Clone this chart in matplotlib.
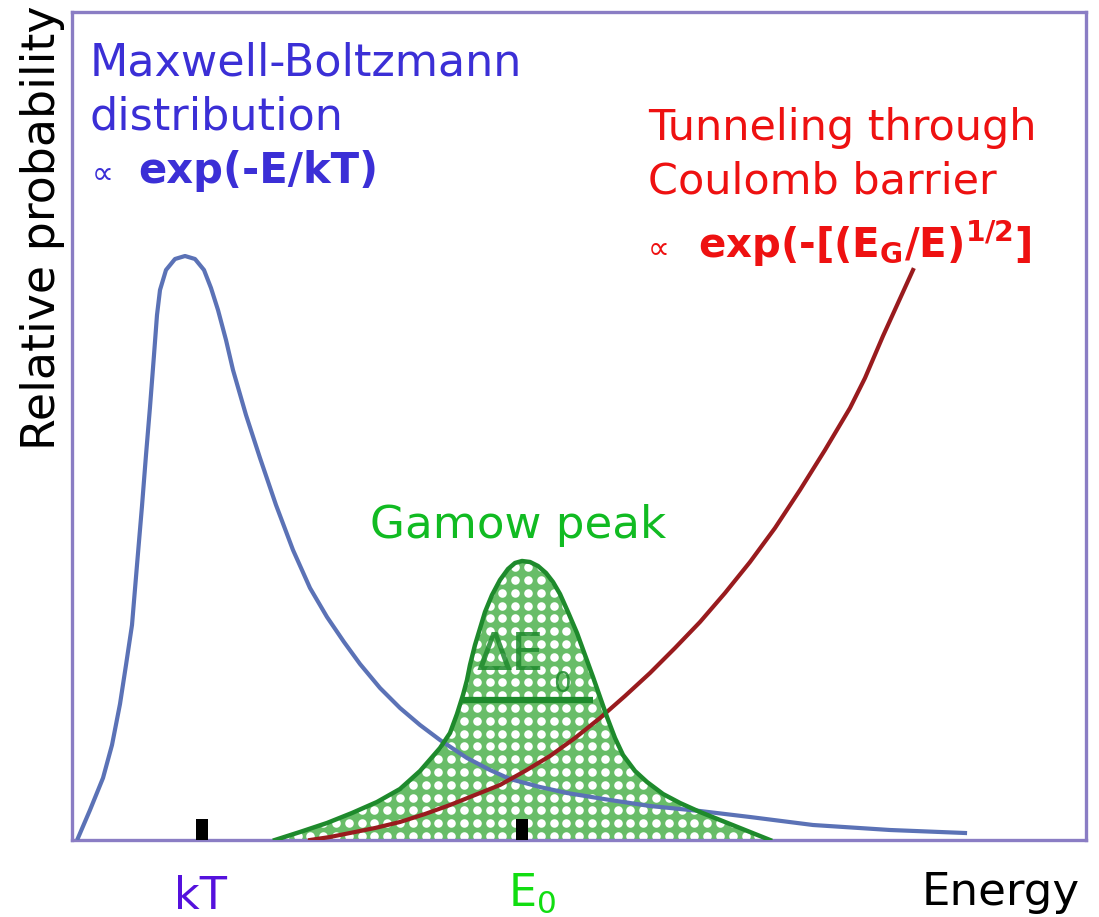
import numpy as np
import matplotlib
matplotlib.use("Agg")
import matplotlib.pyplot as plt
from matplotlib.patches import Polygon

plt.rcParams['font.family'] = ['DejaVu Sans']
plt.rcParams['mathtext.default'] = 'regular'

# ---- data (arbitrary units) ----
mb_energy = [6, 18, 31, 40, 48, 54, 60, 65, 70, 74, 78, 82, 85, 88, 94, 103, 113, 123, 132,
             139, 146, 154, 161, 174, 188, 204, 221, 238, 255, 272, 288, 308, 328, 348, 368,
             395, 418, 438, 468, 495, 538, 578, 628, 678, 741, 818, 893]
mb_prob = [2, 30, 62, 95, 136, 175, 215, 275, 334, 385, 433, 485, 525, 550, 570, 581, 584,
           581, 570, 552, 530, 500, 470, 425, 382, 335, 290, 252, 223, 198, 176, 152, 132,
           115, 100, 82, 70, 61, 53, 47, 40, 34, 29, 23, 15, 10, 7]

tunnel_energy = [238, 258, 278, 303, 328, 353, 378, 403, 428, 453, 478, 503, 528, 553, 578,
                 603, 628, 653, 678, 703, 728, 753, 778, 793, 811, 826, 841]
tunnel_prob = [0, 3, 7, 12, 18, 26, 35, 45, 55, 69, 84, 102, 122, 144, 167, 192, 218, 247,
               278, 312, 350, 390, 432, 462, 504, 537, 570]

gamow_energy = [203, 228, 255, 280, 305, 328, 348, 368, 378, 385, 391, 395, 398, 403, 413,
                420, 428, 436, 443, 450, 458, 466, 474, 481, 488, 496, 505, 513, 521, 528,
                535, 543, 551, 563, 575, 591, 608, 628, 648, 673, 698]
gamow_prob = [0, 8, 17, 27, 38, 51, 69, 92, 107, 126, 145, 160, 175, 195, 228, 245, 260,
              271, 277, 279, 278, 274, 267, 258, 246, 228, 207, 185, 163, 143, 123, 102, 85,
              69, 58, 46, 37, 28, 20, 10, 0]

width_energy = [391, 521]
width_prob = [140, 140]

tick_energy = [130, 450]
tick_height = 21
tick_labels = ["kT", "E$_\\mathregular{0}$"]

W, H = 1099, 917
fig = plt.figure(figsize=(W / 100, H / 100), dpi=100)
ax = fig.add_axes([72 / W, (H - 840) / H, 1014 / W, 828 / H])
ax.set_xlim(0, 1014)
ax.set_ylim(0, 828)
ax.set_xticks([])
ax.set_yticks([])
for sp in ax.spines.values():
    sp.set_color('#8a7dc4')
    sp.set_linewidth(2.4)

# Gamow peak fill with dotted texture
green_line = '#1e8a2c'
verts = np.column_stack([gamow_energy, gamow_prob])
poly = Polygon(verts, closed=True, facecolor='#68bd68', edgecolor='none', zorder=1)
ax.add_patch(poly)
gx, gy = np.meshgrid(np.arange(200, 710, 12.8), np.arange(4, 290, 12.8))
dots = ax.scatter(gx.ravel(), gy.ravel(), s=38, c='white', marker='o', linewidths=0, zorder=1.5)
dots.set_clip_path(poly)

ax.plot(mb_energy, mb_prob, color='#5b72b6', lw=3.0, zorder=3, solid_joinstyle='round')
ax.plot(tunnel_energy, tunnel_prob, color='#991b1e', lw=3.0, zorder=3, solid_joinstyle='round')
ax.plot(gamow_energy, gamow_prob, color=green_line, lw=3.2, zorder=3, solid_joinstyle='round')
ax.plot(width_energy, width_prob, color=green_line, lw=4.5, zorder=3, solid_capstyle='butt')

ax.bar(tick_energy, tick_height, width=12, bottom=0, color='black', zorder=4)

ax.text(405, 170, "ΔE", color=green_line, fontsize=37, ha='left', va='baseline',
        zorder=2, alpha=0.85)
ax.text(481, 148, "0", color=green_line, fontsize=20, ha='left', va='baseline', zorder=2, alpha=0.85)


def ft(x, y, s, **kw):
    fig.text(x / W, 1 - y / H, s, **kw)


blue_t = '#3b2fd6'
ft(90, 76, "Maxwell-Boltzmann", color=blue_t, fontsize=32, va='baseline')
ft(90, 130, "distribution", color=blue_t, fontsize=32, va='baseline')
ft(92, 183, "∝", color=blue_t, fontsize=22, va='baseline')
ft(138, 183, "exp(-E/kT)", color=blue_t, fontsize=30, fontweight='bold', va='baseline')

red_t = '#ee1111'
ft(648, 140, "Tunneling through", color=red_t, fontsize=31, va='baseline')
ft(648, 193, "Coulomb barrier", color=red_t, fontsize=31, va='baseline')
ft(648, 258, "∝", color=red_t, fontsize=22, va='baseline')
ft(698, 258, "exp(-[(E$_\\mathregular{G}$/E)$^\\mathregular{1/2}$]", color=red_t, fontsize=29,
   fontweight='bold', va='baseline')

ft(518, 538, "Gamow peak", color='#11bb22', fontsize=32.5, ha='center', va='baseline')

ft(200, 909, tick_labels[0], color='#5511dd', fontsize=32, ha='center', va='baseline')
ft(508, 906, tick_labels[1], color='#11dd11', fontsize=32, ha='left', va='baseline')
ft(1080, 905, "Energy", color='black', fontsize=32.5, ha='right', va='baseline')

fig.text(55 / W, 1 - 228 / H, "Relative probability", color='black', fontsize=33,
         rotation=90, rotation_mode='anchor', ha='center', va='baseline')

fig.savefig("out.png", dpi=100)
